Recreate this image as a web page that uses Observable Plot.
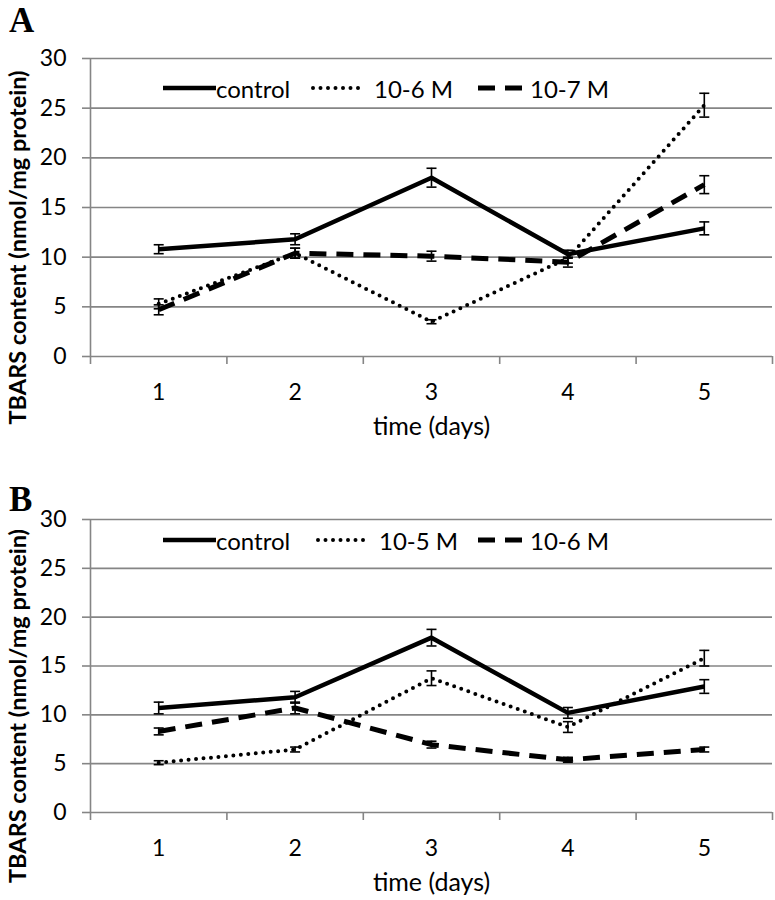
<!DOCTYPE html>
<html><head><meta charset="utf-8">
<script src="https://cdn.jsdelivr.net/npm/d3@7"></script>
<script src="https://cdn.jsdelivr.net/npm/@observablehq/plot@0.6"></script>
<style>
body{margin:0;background:#fff;font-family:Lato,sans-serif;color:#000;}
.panel{position:relative;width:775px;height:450px;overflow:hidden;}
.panel svg{position:absolute;left:0;top:0;}
.letter{position:absolute;left:9px;font-family:"Liberation Serif",serif;font-weight:bold;font-size:35px;line-height:1;}
.legend{position:absolute;left:163px;height:30px;font-size:24px;}
.legend .item{position:absolute;top:0;height:30px;display:flex;align-items:center;white-space:nowrap;}
.legend svg{position:static;}
</style></head><body><div id="chart"></div>
<script>
const days = [1, 2, 3, 4, 5];
const yTicks = [0, 5, 10, 15, 20, 25, 30];
const xTitle = "time (days)";
const yTitle = "TBARS content (nmol/mg protein)";

// Panel A
const namesA = ["control", "10-6 M", "10-7 M"];
const aControl = [10.8, 11.8, 18.0, 10.3, 12.9];
const aControlErr = [0.45, 0.55, 0.95, 0.4, 0.65];
const aHigh = [5.3, 10.4, 3.5, 9.9, 25.3];
const aHighErr = [0.5, 0.5, 0.2, 0.5, 1.2];
const aLow = [4.7, 10.4, 10.1, 9.5, 17.3];
const aLowErr = [0.5, 0.5, 0.5, 0.5, 0.9];

// Panel B
const namesB = ["control", "10-5 M", "10-6 M"];
const bControl = [10.7, 11.8, 17.9, 10.2, 12.9];
const bControlErr = [0.6, 0.6, 0.85, 0.55, 0.7];
const bHigh = [5.1, 6.45, 13.75, 8.75, 15.8];
const bHighErr = [0.2, 0.25, 0.75, 0.55, 0.8];
const bLow = [8.3, 10.7, 6.95, 5.4, 6.45];
const bLowErr = [0.35, 0.6, 0.35, 0.25, 0.25];

const lineStyles = [
  {strokeWidth: 4.5, strokeLinecap: "butt"},
  {strokeWidth: 4, strokeDasharray: "0 7.5", strokeLinecap: "round"},
  {strokeWidth: 5, strokeDasharray: "17 10", strokeLinecap: "butt"}
];

const capSymbol = {
  draw(context, size) {
    const r = Math.sqrt(size / Math.PI);
    context.moveTo(-r, 0);
    context.lineTo(r, 0);
  }
};

function makePanel({letter, names, values, errs, marginTop, marginBottom, letterTop, legendTop, yLabelDy, legendPos}) {
  const rows = names.flatMap((name, s) => days.map((d, i) => ({s, name, day: d, value: values[s][i], err: errs[s][i]})));
  const bounds = days.map(d => d - 0.5).concat([days[days.length - 1] + 0.5]);
  const grid = "#858585";
  const plot = Plot.plot({
    width: 775, height: 450,
    marginLeft: 90, marginRight: 3, marginTop, marginBottom,
    style: {fontFamily: "Lato, sans-serif", fontSize: "23px", color: "#000", background: "transparent", overflow: "visible"},
    x: {domain: [bounds[0], bounds[bounds.length - 1]], axis: null},
    y: {domain: [0, 30], axis: null},
    marks: [
      Plot.ruleY(yTicks, {stroke: grid, strokeWidth: 1.6}),
      Plot.ruleX([bounds[0]], {stroke: grid, strokeWidth: 1.6}),
      Plot.axisY({ticks: yTicks, label: null, tickSize: 8, tickPadding: 16, stroke: grid, strokeWidth: 1.6, strokeOpacity: 1, fill: "#000", fontSize: 23}),
      Plot.axisX({ticks: bounds, label: null, tickSize: 8, tickFormat: () => "", stroke: grid, strokeWidth: 1.6, strokeOpacity: 1}),
      Plot.axisX({ticks: days, label: null, tickSize: 0, tickPadding: 27, tickFormat: d3.format("d"), fill: "#000", fontSize: 23}),
      Plot.text([xTitle], {x: d3.median(days), frameAnchor: "bottom", dy: 78, fontSize: 25, fill: "#000"}),
      Plot.text([yTitle], {frameAnchor: "left", textAnchor: "middle", rotate: -90, dx: -72, dy: yLabelDy, fontSize: 23.5, fontWeight: "bold", fill: "#000"}),
      ...names.map((n, s) => Plot.line(rows.filter(r => r.s === s), {x: "day", y: "value", stroke: "#000", ...lineStyles[s]})),
      Plot.ruleX(rows, {x: "day", y1: d => d.value - d.err, y2: d => d.value + d.err, stroke: "#000", strokeWidth: 1.6}),
      Plot.dot(rows, {x: "day", y: d => d.value + d.err, symbol: capSymbol, r: 5, stroke: "#000", fill: "none", strokeWidth: 1.6}),
      Plot.dot(rows, {x: "day", y: d => d.value - d.err, symbol: capSymbol, r: 5, stroke: "#000", fill: "none", strokeWidth: 1.6})
    ]
  });
  const div = document.createElement("div");
  div.className = "panel";
  div.appendChild(plot);
  const L = document.createElement("div");
  L.className = "letter";
  L.style.top = letterTop + "px";
  L.textContent = letter;
  div.appendChild(L);
  const legend = document.createElement("div");
  legend.className = "legend";
  legend.style.top = legendTop + "px";
  names.forEach((n, s) => {
    const item = document.createElement("div");
    item.className = "item";
    item.style.left = legendPos[s] + "px";
    const st = lineStyles[s];
    const w = s === 0 ? 53 : s === 1 ? 52 : 44;
    const dash = s === 1 ? st.strokeDasharray : s === 2 ? "17 10" : "";
    const pad = s === 1 ? 3 : 0;
    item.innerHTML = `<svg width="${w}" height="30"><line x1="${pad}" x2="${w - pad}" y1="15" y2="15" stroke="#000" stroke-width="${st.strokeWidth}" stroke-linecap="${st.strokeLinecap}" ${dash ? `stroke-dasharray="${dash}"` : ""}/></svg><span style="margin-left:${s === 0 ? 0 : s === 1 ? 12 : 8}px">${n}</span>`;
    legend.appendChild(item);
  });
  div.appendChild(legend);
  return div;
}

const root = document.getElementById("chart");
root.appendChild(makePanel({letter: "A", names: namesA, values: [aControl, aHigh, aLow], errs: [aControlErr, aHighErr, aLowErr],
  marginTop: 58, marginBottom: 94, letterTop: 3, legendTop: 73, yLabelDy: 40, legendPos: [0, 147, 315]}));
root.appendChild(makePanel({letter: "B", names: namesB, values: [bControl, bHigh, bLow], errs: [bControlErr, bHighErr, bLowErr],
  marginTop: 69, marginBottom: 88, letterTop: 32, legendTop: 75, yLabelDy: 40, legendPos: [0, 152, 315]}));
</script></body></html>
